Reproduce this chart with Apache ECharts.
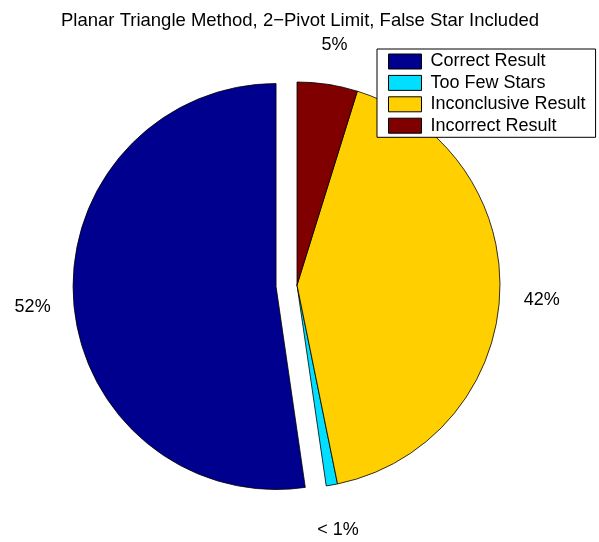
<!DOCTYPE html>
<html>
<head>
<meta charset="utf-8">
<script src="https://cdn.jsdelivr.net/npm/echarts@6/dist/echarts.min.js"></script>
<style>
html,body{margin:0;padding:0;background:#fff;}
#chart{width:599px;height:542px;}
</style>
</head>
<body>
<div id="chart"></div>
<script>
const categories = ['Correct Result', 'Too Few Stars', 'Inconclusive Result', 'Incorrect Result'];
const values = [52.3, 0.9, 42.0, 4.8];
const pctLabels = ['52%', '< 1%', '42%', '5%'];
const colors = ['#00008f', '#00dfff', '#ffcf00', '#800000'];
const exploded = [true, false, false, false];
const titleText = 'Planar Triangle Method, 2\u2212Pivot Limit, False Star Included';
// small nudges of the percentage labels (px), MATLAB-style placement
const labelShift = [[2, 4], [-23, 25], [-1, 4], [-14, -19]];

const FONT = '"Liberation Sans", Arial, Helvetica, sans-serif';
const chart = echarts.init(document.getElementById('chart'), null, {renderer: 'canvas'});

const data = categories.map((name, i) => ({
  name: name,
  value: values[i],
  selected: exploded[i],
  itemStyle: {color: colors[i]}
}));

chart.setOption({
  animation: false,
  backgroundColor: '#ffffff',
  title: {
    text: titleText,
    left: 300,
    textAlign: 'center',
    top: 10,
    padding: 0,
    textStyle: {fontFamily: FONT, fontSize: 18.5, fontWeight: 'normal', color: '#000', lineHeight: 21}
  },
  legend: {
    orient: 'vertical',
    left: 377,
    top: 49,
    data: categories,
    selectedMode: false,
    itemWidth: 33,
    itemHeight: 15,
    itemGap: 3.4,
    padding: [3.5, 10, 2.6, 11],
    borderColor: '#000',
    borderWidth: 1,
    backgroundColor: '#fff',
    icon: 'rect',
    itemStyle: {borderColor: '#000', borderWidth: 1},
    textStyle: {fontFamily: FONT, fontSize: 18, color: '#000', padding: [0, 0, 0, 4]}
  },
  series: [{
    type: 'pie',
    center: [297, 285],
    radius: [0, 203],
    startAngle: 90,
    clockwise: false,
    selectedMode: 'single',
    selectedOffset: 21,
    avoidLabelOverlap: false,
    silent: true,
    emphasis: {disabled: true, scale: false},
    itemStyle: {borderColor: '#000', borderWidth: 0.8},
    select: {itemStyle: {borderColor: '#000', borderWidth: 0.8}},
    label: {
      show: true,
      position: 'outside',
      formatter: p => pctLabels[p.dataIndex],
      fontFamily: FONT,
      fontSize: 18,
      color: '#000'
    },
    labelLine: {show: false, length: 20, length2: 0},
    labelLayout: p => ({dx: labelShift[p.dataIndex][0], dy: labelShift[p.dataIndex][1]}),
    data: data
  }]
});
</script>
</body>
</html>
